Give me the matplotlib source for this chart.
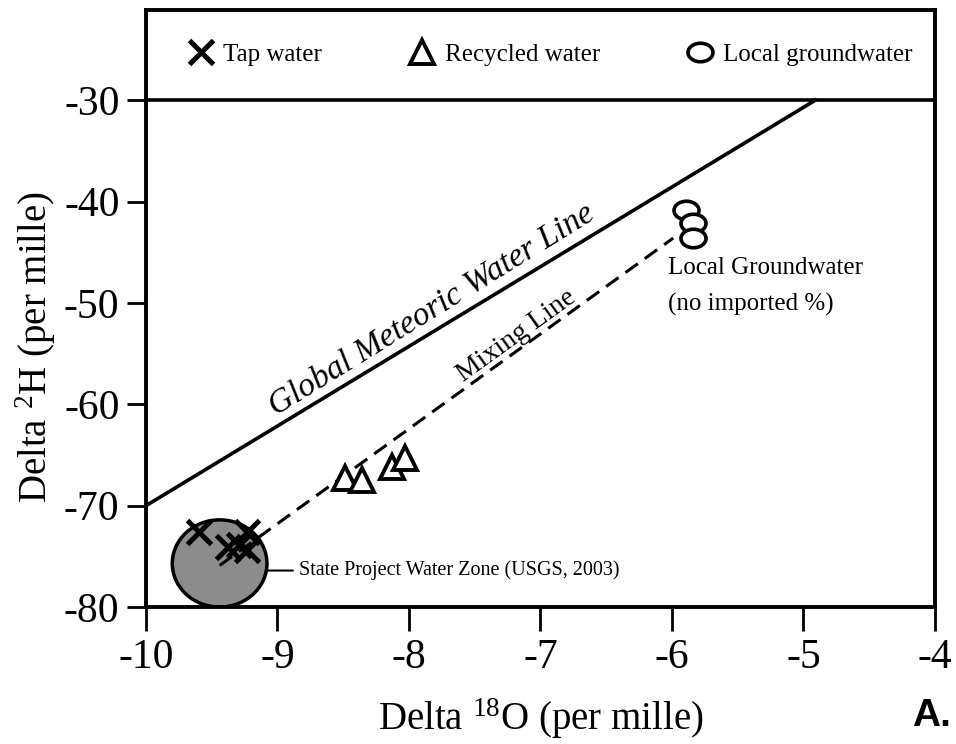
import numpy as np
import matplotlib
matplotlib.use("Agg")
import matplotlib.pyplot as plt
from matplotlib.patches import Ellipse
from matplotlib.path import Path

plt.rcParams["font.family"] = ["Liberation Serif", "DejaVu Serif"]
plt.rcParams["mathtext.fontset"] = "custom"
plt.rcParams["mathtext.rm"] = "Liberation Serif"
plt.rcParams["mathtext.it"] = "Liberation Serif:italic"

# tap water samples (delta 18O, delta 2H)
tap_x = [-9.60, -9.23, -9.38, -9.23, -9.29]
tap_y = [-72.6, -72.6, -74.1, -74.4, -73.9]

# recycled water samples
rec_x = [-8.49, -8.36, -8.13, -8.03]
rec_y = [-67.3, -67.5, -66.2, -65.3]

# local groundwater samples
gw_x = [-5.89, -5.84, -5.84]
gw_y = [-40.8, -42.1, -43.6]

# reference lines
gmwl_x = [-10.0, -4.91]
gmwl_y = [-70.0, -30.0]
mix_x = [-9.44, -5.99]
mix_y = [-75.9, -43.6]

# state project water zone (centre, width, height in data units)
spw_center = (-9.44, -75.7)
spw_w, spw_h = 0.72, 8.6

xticks = [-10, -9, -8, -7, -6, -5, -4]
yticks = [-80, -70, -60, -50, -40, -30]

# flat ellipse marker for groundwater
circ = Path.unit_circle()
oval = Path(circ.vertices * np.array([1.0, 0.74]), circ.codes)

fig = plt.figure(figsize=(9.56, 7.44), dpi=100)
ax = fig.add_axes([0.1527, 0.1841, 0.978 - 0.1527, 0.9866 - 0.1841])

ax.add_patch(Ellipse(spw_center, spw_w, spw_h, facecolor="#8c8c8c",
                     edgecolor="black", lw=2.5, zorder=2))

ax.plot(gmwl_x, gmwl_y, color="black", lw=2.6, zorder=3)
ax.plot(mix_x, mix_y, color="black", lw=2.2, dashes=(5, 2.8), zorder=3)
ax.axhline(-30, color="black", lw=2.6, zorder=3)

ax.plot(tap_x, tap_y, ls="none", marker="x", ms=17, mew=3.6,
        color="black", zorder=4, label="Tap water")
ax.plot(rec_x, rec_y, ls="none", marker="^", ms=17, mew=2.8,
        mfc="white", mec="black", zorder=4, label="Recycled water")
ax.plot(gw_x, gw_y, ls="none", marker=oval, ms=18, mew=2.6,
        mfc="white", mec="black", zorder=4, label="Local groundwater")

ax.legend(loc="center", bbox_to_anchor=(0.514, 0.925), ncol=3, frameon=False,
          fontsize=18, handlelength=0.8, handletextpad=0.5,
          columnspacing=3.6, markerscale=1.0)

ax.text(-7.77, -51.9, "Global Meteoric Water Line", fontsize=24,
        style="italic", rotation=31.7, rotation_mode="anchor",
        ha="center", va="bottom")
ax.text(-7.13, -54.3, "Mixing Line", fontsize=20, rotation=35.8,
        rotation_mode="anchor", ha="center", va="bottom")
ax.text(-6.03, -45.5, "Local Groundwater\n(no imported %)", fontsize=18,
        ha="left", va="top", linespacing=1.75)
ax.annotate("State Project Water Zone (USGS, 2003)", xy=(-9.08, -76.4),
            xytext=(-8.84, -76.4), fontsize=14.5, va="center", ha="left",
            arrowprops=dict(arrowstyle="-", color="black", lw=1.5,
                            shrinkA=2, shrinkB=0))

ax.set_xlim(-10, -4)
ax.set_ylim(-80, -21.1)
ax.set_xticks(xticks)
ax.set_yticks(yticks)
ax.set_xticklabels([str(t) for t in xticks])
ax.set_yticklabels([str(t) for t in yticks])
ax.tick_params(axis="both", direction="out", length=14, width=2,
               labelsize=30, pad=5)
ax.tick_params(axis="x", length=17, pad=6)
for s in ax.spines.values():
    s.set_linewidth(2.8)

ax.set_xlabel(r"Delta $^{18}$O (per mille)", fontsize=28, labelpad=14)
ax.set_ylabel(r"Delta $^{2}$H (per mille)", fontsize=28)
ax.yaxis.set_label_coords(-0.111, 0.435)

fig.text(0.995, 0.038, "A.", fontsize=28, fontweight="bold",
         family="Liberation Sans", ha="right", va="center")

fig.savefig("out.png", dpi=100)
